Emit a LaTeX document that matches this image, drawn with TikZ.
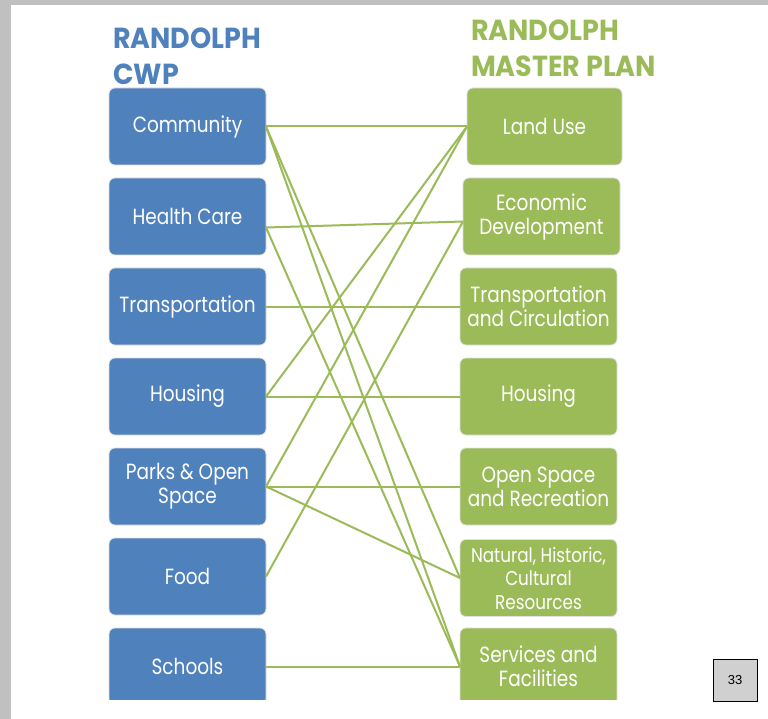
\documentclass[tikz,border=0pt]{standalone}
\usepackage{fontspec}
\usepackage{xcolor}
\setmainfont{Poppins}[FakeStretch=0.84]
\newfontfamily\titlefont{Poppins}[FakeStretch=0.93]
\newfontfamily\pagefont{Liberation Sans}
\definecolor{cwpblue}{HTML}{4F81BD}
\definecolor{plangreen}{HTML}{9BBB59}
\definecolor{framegray}{HTML}{C0C0C0}
\definecolor{pagegray}{HTML}{D0D0D0}

\begin{document}
\begin{tikzpicture}[x=1pt, y=-1pt,
  topic/.style={rounded corners=6pt, draw=black!12, line width=0.8pt,
    minimum width=157pt, minimum height=77pt, inner sep=2pt, outer sep=0pt,
    text=white, align=center, font=\fontsize{22}{24}\selectfont},
  cwpbox/.style={topic, fill=cwpblue},
  planbox/.style={topic, fill=plangreen},
  heading/.style={anchor=north west, align=left, inner sep=0pt,
    font=\titlefont\bfseries\fontsize{29}{35.5}\selectfont},
  link/.style={plangreen, line width=2pt}]
  \useasboundingbox (0,0) rectangle (768,719);
  \fill[framegray] (0,0) rectangle (768,5);
  \fill[framegray] (0,0) rectangle (11,719);

  \node[heading, text=cwpblue] (cwptitle) at (113,28) {RANDOLPH\\CWP};
  \node[heading, text=plangreen] (plantitle) at (471,20) {RANDOLPH\\MASTER PLAN};

  \begin{scope}
    \clip (0,0) rectangle (768,699);
    % left column
    \node[cwpbox] (community) at (187.5,126.5) {Community};
    \node[cwpbox] (health) at (187.5,216.5) {Health Care};
    \node[cwpbox] (transport) at (187.5,306.5) {Transportation};
    \node[cwpbox] (housing) at (187.5,396.5) {Housing};
    \node[cwpbox] (parks) at (187.5,486.5) {Parks \& Open\\Space};
    \node[cwpbox] (food) at (187.5,576.5) {Food};
    \node[cwpbox] (schools) at (187.5,666.5) {Schools};
    % right column
    \node[planbox, minimum width=155pt] (landuse) at (544.5,126.5) {Land Use};
    \node[planbox] (econ) at (541.5,216.5) {Economic\\Development};
    \node[planbox] (circulation) at (538.5,306.5) {Transportation\\and Circulation};
    \node[planbox] (mphousing) at (538.5,396.5) {Housing};
    \node[planbox] (openspace) at (538.5,486.5) {Open Space\\and Recreation};
    \node[planbox, font=\fontsize{20}{23.5}\selectfont] (natural) at (538.5,578) {Natural, Historic,\\Cultural\\Resources};
    \node[planbox] (services) at (538.5,666.5) {Services and\\Facilities};
  \end{scope}

  \draw[link] (community.east) -- (landuse.west);
  \draw[link] (community.east) -- (natural.west);
  \draw[link] (community.east) -- (services.west);
  \draw[link] ([yshift=-11pt]health.east) -- ([yshift=-5pt]econ.west);
  \draw[link] ([yshift=-11pt]health.east) -- (services.west);
  \draw[link] (transport.east) -- (circulation.west);
  \draw[link] (housing.east) -- (mphousing.west);
  \draw[link] (housing.east) -- (landuse.west);
  \draw[link] (parks.east) -- (openspace.west);
  \draw[link] (parks.east) -- (natural.west);
  \draw[link] (parks.east) -- (landuse.west);
  \draw[link] (food.east) -- ([yshift=-5pt]econ.west);
  \draw[link] (schools.east) -- (services.west);

  \node[draw=black, fill=pagegray, line width=1pt, minimum width=44pt, minimum height=42pt,
    font=\pagefont\fontsize{13}{15}\selectfont] (page) at (735,680) {33};
\end{tikzpicture}
\end{document}
